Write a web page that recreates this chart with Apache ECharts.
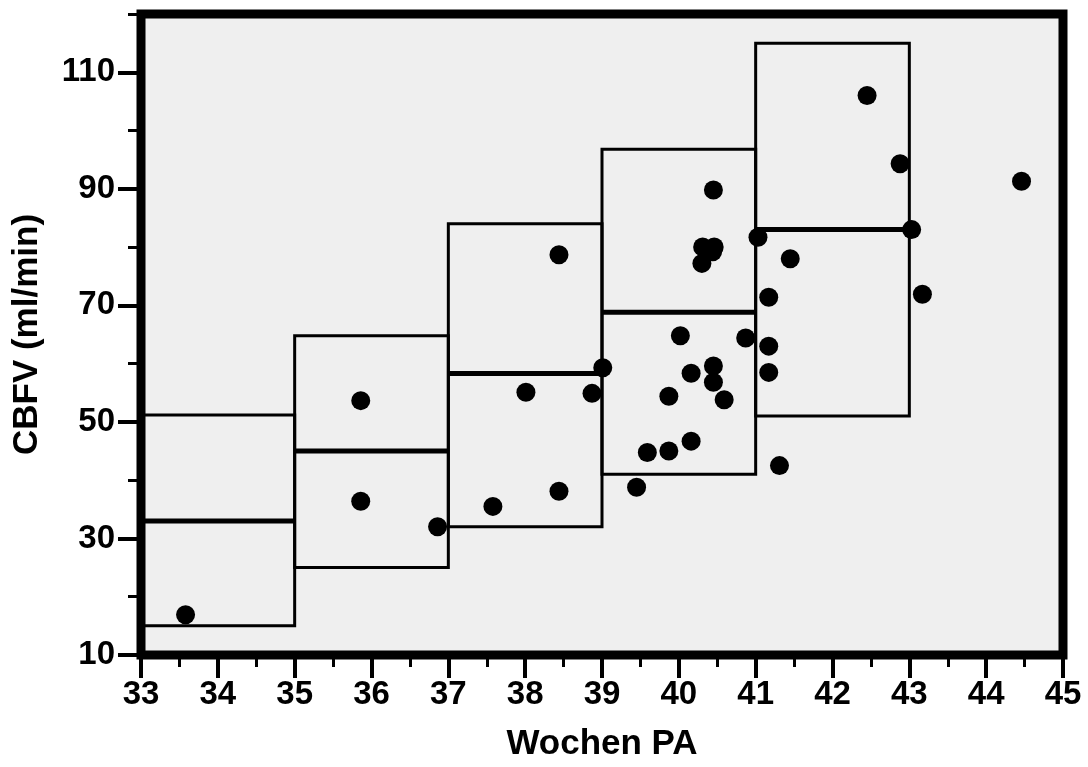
<!DOCTYPE html>
<html>
<head>
<meta charset="utf-8">
<script src="https://cdn.jsdelivr.net/npm/echarts@6/dist/echarts.min.js"></script>
<style>html,body{margin:0;padding:0;background:#fff;}#c{width:1088px;height:767px;}</style>
</head>
<body>
<div id="c"></div>
<script>
// Box groups (gestational week ranges)
var boxStart  = [33, 35, 37, 39, 41];
var boxEnd    = [35, 37, 39, 41, 43];
var boxLow    = [15, 25, 32, 41, 51];
var boxMedian = [33, 45, 58.3, 68.8, 83];
var boxHigh   = [51.2, 64.8, 84, 96.8, 115];

// Individual measurements
var weeks = [33.58, 35.86, 35.86, 36.86, 37.58, 38.01, 38.44, 38.44, 38.87, 39.01,
             39.45, 39.59, 39.87, 39.87, 40.02, 40.16, 40.16, 40.31, 40.30, 40.45,
             40.46, 40.44, 40.45, 40.45, 40.59, 40.87, 41.03, 41.17, 41.17, 41.17,
             41.31, 41.45, 42.45, 42.88, 43.03, 43.17, 44.46];
var cbfv  = [16.9, 53.65, 36.4, 32.0, 35.5, 55.1, 78.7, 38.1, 54.9, 59.3,
             38.8, 44.75, 45.0, 54.4, 64.8, 46.7, 58.35, 80.0, 77.2, 89.8,
             80.0, 79.2, 59.6, 56.8, 53.8, 64.4, 81.7, 71.4, 63.0, 58.5,
             42.5, 78.0, 106.0, 94.3, 83.0, 71.9, 91.3];

// Tick values
var yMajorTicks = [10, 30, 50, 70, 90, 110];
var yMinorTicks = [20, 40, 60, 80, 100, 120];

var boxData = boxStart.map(function (s, i) {
  return [s, boxEnd[i], boxLow[i], boxMedian[i], boxHigh[i]];
});
var pointData = weeks.map(function (w, i) { return [w, cbfv[i]]; });

var FONT = 'Liberation Sans, Arial, Helvetica, sans-serif';

var chart = echarts.init(document.getElementById('c'), null, {renderer: 'canvas'});
chart.setOption({
  animation: false,
  backgroundColor: '#ffffff',
  grid: {
    left: 141, right: 25, top: 14, bottom: 107,
    show: true, backgroundColor: '#efefef', borderColor: '#000', borderWidth: 9
  },
  xAxis: {
    type: 'value', min: 33, max: 45, interval: 1,
    name: 'Wochen PA', nameLocation: 'middle', nameGap: 72,
    nameTextStyle: {fontFamily: FONT, fontWeight: 'bold', fontSize: 35, color: '#000'},
    axisLine: {show: false},
    axisTick: {show: true, length: 23, lineStyle: {color: '#000', width: 4}},
    minorTick: {show: true, splitNumber: 2, length: 12, lineStyle: {color: '#000', width: 3}},
    axisLabel: {margin: 23, fontFamily: FONT, fontWeight: 'bold', fontSize: 33, color: '#000'},
    splitLine: {show: false}
  },
  yAxis: [{
    type: 'value', min: 10, max: 120, interval: 10,
    name: 'CBFV (ml/min)', nameLocation: 'middle', nameGap: 96, nameRotate: 90,
    nameTextStyle: {fontFamily: FONT, fontWeight: 'bold', fontSize: 35, color: '#000'},
    axisLine: {show: false},
    axisTick: {show: true, length: 23, customValues: yMajorTicks, lineStyle: {color: '#000', width: 4}},
    axisLabel: {margin: 26, customValues: yMajorTicks, fontFamily: FONT, fontWeight: 'bold', fontSize: 33, color: '#000'},
    splitLine: {show: false}
  }, {
    type: 'value', min: 10, max: 120, interval: 10, position: 'left',
    axisLine: {show: false},
    axisTick: {show: true, length: 13, customValues: yMinorTicks, lineStyle: {color: '#000', width: 3}},
    axisLabel: {show: false},
    splitLine: {show: false}
  }],
  series: [{
    type: 'custom',
    xAxisIndex: 0, yAxisIndex: 0,
    data: boxData,
    z: 2,
    renderItem: function (params, api) {
      var x0 = api.value(0), x1 = api.value(1), lo = api.value(2), med = api.value(3), hi = api.value(4);
      var pTop = api.coord([x0, hi]);
      var pBot = api.coord([x1, lo]);
      var m0 = api.coord([x0, med]);
      var m1 = api.coord([x1, med]);
      return {
        type: 'group',
        children: [{
          type: 'rect',
          shape: {x: pTop[0], y: pTop[1], width: pBot[0] - pTop[0], height: pBot[1] - pTop[1]},
          style: {fill: 'none', stroke: '#000', lineWidth: 3}
        }, {
          type: 'line',
          shape: {x1: m0[0], y1: m0[1], x2: m1[0], y2: m1[1]},
          style: {stroke: '#000', lineWidth: 5}
        }]
      };
    }
  }, {
    type: 'scatter',
    xAxisIndex: 0, yAxisIndex: 0,
    data: pointData,
    symbol: 'circle', symbolSize: 19,
    itemStyle: {color: '#000', opacity: 1},
    z: 3
  }]
});
</script>
</body>
</html>
